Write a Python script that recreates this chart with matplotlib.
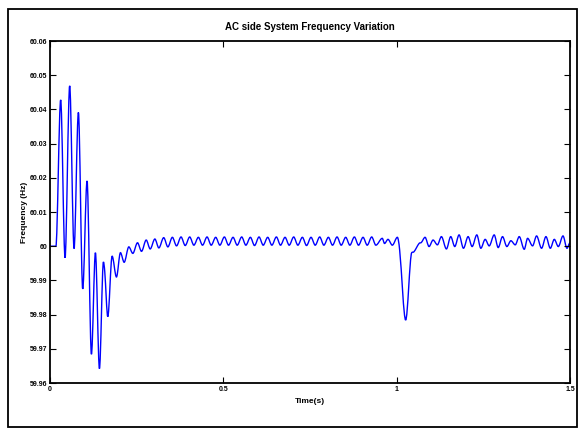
import matplotlib
matplotlib.use('Agg')
import numpy as np
import matplotlib.pyplot as plt
from matplotlib.patches import Rectangle, PathPatch
from matplotlib.path import Path

plt.rcParams['font.family'] = ['Liberation Sans', 'DejaVu Sans']

# transient after t = 0 (extrema)
t_start = [0.0, 0.017, 0.0308, 0.0434, 0.0568, 0.0694, 0.0819, 0.0944, 0.1069,
           0.1195, 0.131, 0.1426, 0.1541, 0.158, 0.1667, 0.1792, 0.1917, 0.2032,
           0.2139, 0.2274, 0.2389, 0.2524, 0.264, 0.2775, 0.289, 0.3025, 0.314]
f_start = [60.0, 60.0, 60.0428, 59.9966, 60.0469, 59.9993, 60.0391, 59.9875, 60.0191,
           59.9684, 59.9981, 59.9642, 59.9954, 59.9925, 59.9794, 59.9971, 59.991, 59.9981,
           59.9953, 59.9998, 59.9979, 60.001, 59.9985, 60.0018, 59.9992, 60.0021, 59.9995]

# steady ripple between the two events
t_steady = [0.328, 0.340, 0.353, 0.365, 0.378, 0.390, 0.403, 0.415, 0.428, 0.440,
            0.453, 0.465, 0.478, 0.490, 0.503, 0.515, 0.528, 0.540, 0.553, 0.565,
            0.578, 0.590, 0.603, 0.615, 0.628, 0.640, 0.653, 0.665, 0.678, 0.690,
            0.703, 0.715, 0.728, 0.740, 0.753, 0.765, 0.778, 0.790, 0.803, 0.815,
            0.828, 0.840, 0.853, 0.865, 0.878, 0.890, 0.903, 0.915, 0.928, 0.940,
            0.9585, 0.965, 0.975, 0.9875, 1.002]
f_steady = [60.0025, 59.9998, 60.0026, 60.0001, 60.0027, 60.0002, 60.0027, 60.0003,
            60.0026, 60.0003, 60.0027, 60.0003, 60.0026, 60.0003, 60.0027, 60.0003,
            60.0026, 60.0003, 60.0027, 60.0003, 60.0026, 60.0002, 60.0027, 60.0003,
            60.0026, 60.0003, 60.0027, 60.0003, 60.0026, 60.0003, 60.0027, 60.0003,
            60.0026, 60.0002, 60.0026, 60.0003, 60.0027, 60.0003, 60.0026, 60.0003,
            60.0027, 60.0003, 60.0026, 60.0003, 60.0027, 60.0003, 60.0026, 60.0003,
            60.0027, 60.0003, 60.0023, 60.0008, 60.002, 60.0003, 60.0026]

# dip near t = 1 s and ripple afterwards
t_end = [1.0086, 1.026, 1.0434, 1.0501, 1.0646, 1.0713, 1.0819, 1.0934, 1.105, 1.1175,
         1.1291, 1.1435, 1.156, 1.1676, 1.18, 1.1927, 1.2061, 1.2177, 1.2312, 1.2428,
         1.2553, 1.2669, 1.2813, 1.2929, 1.3054, 1.3179, 1.3295, 1.342, 1.3536, 1.368,
         1.3777, 1.392, 1.4036, 1.418, 1.4306, 1.4432, 1.4547, 1.4663, 1.4798, 1.4913, 1.5]
f_end = [59.9989, 59.9784, 59.9981, 59.9984, 60.0008, 60.0011, 60.0026, 59.9999, 60.0018, 60.0004,
         60.0028, 59.9992, 60.0028, 59.9999, 60.0033, 59.9994, 60.0028, 59.9999, 60.0033, 59.9994,
         60.002, 60.0001, 60.0033, 59.9996, 60.0028, 59.9999, 60.0016, 60.0004, 60.0028, 59.9991,
         60.0023, 60.0001, 60.003, 59.9994, 60.0028, 59.9994, 60.002, 59.9999, 60.003, 59.9994, 60.001]

time = t_start + t_steady + t_end
freq = f_start + f_steady + f_end

x_ticks = [0, 0.5, 1, 1.5]
x_labels = ['0', '0.5', '1', '1.5']
y_ticks = [59.96, 59.97, 59.98, 59.99, 60.0, 60.01, 60.02, 60.03, 60.04, 60.05, 60.06]
y_labels = ['59.96', '59.97', '59.98', '59.99', '60', '60.01', '60.02', '60.03', '60.04', '60.05', '60.06']


def smooth_path(x, y):
    # cubic Bezier path through the points, tangents kept monotone (no overshoot)
    x = np.asarray(x, float)
    y = np.asarray(y, float)
    n = len(x)
    d = np.diff(y) / np.diff(x)
    m = np.zeros(n)
    for i in range(1, n - 1):
        if d[i - 1] * d[i] > 0:
            m[i] = (y[i + 1] - y[i - 1]) / (x[i + 1] - x[i - 1])
            lim = 3 * min(abs(d[i - 1]), abs(d[i]))
            m[i] = np.sign(m[i]) * min(abs(m[i]), lim)
    verts = [(x[0], y[0])]
    codes = [Path.MOVETO]
    for i in range(n - 1):
        h = (x[i + 1] - x[i]) / 3.0
        verts += [(x[i] + h, y[i] + h * m[i]),
                  (x[i + 1] - h, y[i + 1] - h * m[i + 1]),
                  (x[i + 1], y[i + 1])]
        codes += [Path.CURVE4] * 3
    return Path(verts, codes)


fig = plt.figure(figsize=(5.8, 4.3), dpi=100)
fig.patch.set_facecolor('white')

# outer frame round the whole figure
fig.patches.append(Rectangle((8 / 580, 3 / 430), 569 / 580, 418 / 430, transform=fig.transFigure,
                             fill=False, edgecolor='black', linewidth=1.3))

ax = fig.add_axes([50 / 580, 47 / 430, 520 / 580, 342 / 430])
ax.add_patch(PathPatch(smooth_path(time, freq), facecolor='none',
                       edgecolor='#0000ff', linewidth=1.0))

ax.set_xlim(0, 1.5)
ax.set_ylim(59.96, 60.06)
ax.set_xticks(x_ticks)
ax.set_xticklabels(x_labels)
ax.set_yticks(y_ticks)
ax.set_yticklabels(y_labels)
ax.tick_params(direction='in', length=4, width=0.8, top=True, right=True,
               labelsize=5, pad=2)
for lbl in ax.get_xticklabels() + ax.get_yticklabels():
    lbl.set_fontweight('bold')
for sp in ax.spines.values():
    sp.set_linewidth(1.3)

ax.set_title('AC side System Frequency Variation', fontsize=7, fontweight='bold', pad=8)
ax.set_xlabel('Time(s)', fontsize=6, fontweight='bold', labelpad=4)
ax.set_ylabel('Frequency (Hz)', fontsize=6, fontweight='bold', labelpad=1)

fig.savefig('out.png', dpi=100)
